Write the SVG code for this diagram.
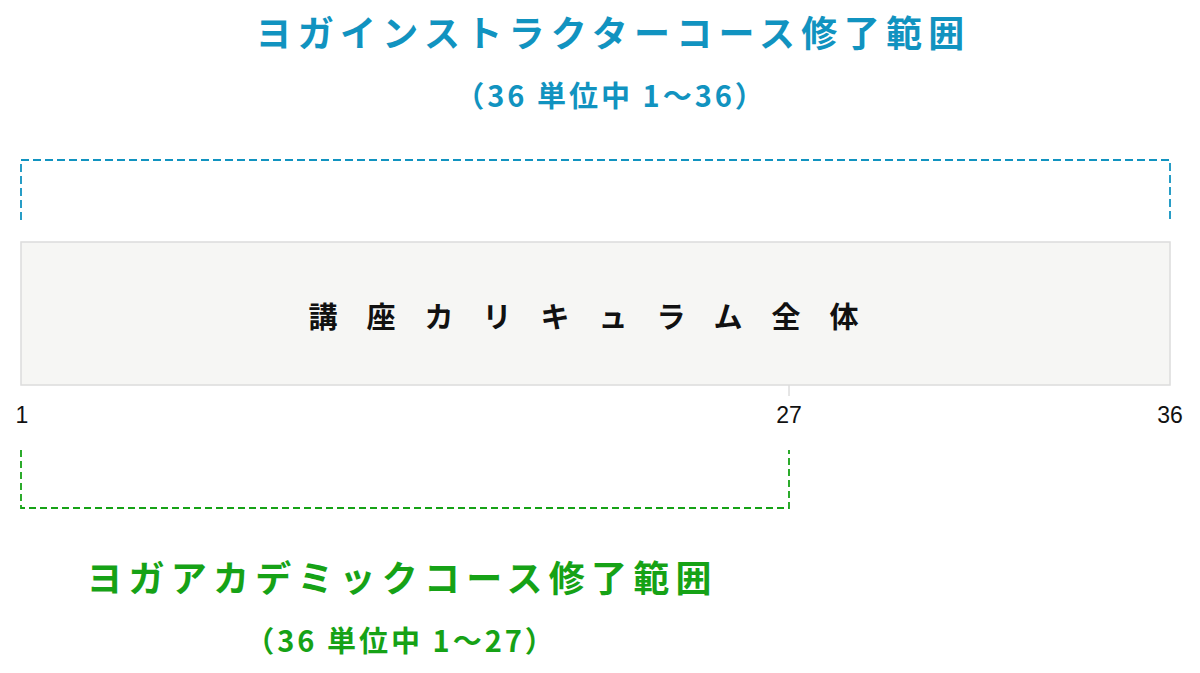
<svg xmlns="http://www.w3.org/2000/svg" width="1200" height="673" viewBox="0 0 1200 673">
<style>
.jp{font-family:"Noto Sans CJK JP","Noto Sans",sans-serif;font-weight:bold;}
.blue{fill:#1193c0;}
.green{fill:#16a216;}
.num{font-family:"Liberation Sans","Noto Sans",sans-serif;font-size:23px;fill:#111;}
.dashB{fill:none;stroke:#1193c0;stroke-width:1.8;stroke-dasharray:8,4;}
.dashG{fill:none;stroke:#16a216;stroke-width:1.8;stroke-dasharray:7,4;}
</style>
<rect width="1200" height="673" fill="#fff"/>
<g id="title-instructor">
<text class="jp blue" x="613" y="47" font-size="36" letter-spacing="6.3" text-anchor="middle">ヨガインストラクターコース修了範囲</text>
<text class="jp blue" x="611" y="107" font-size="29" letter-spacing="3" text-anchor="middle">（36 単位中 1〜36）</text>
</g>
<g id="connectors">
<path class="dashB" d="M21,220 V160 H1170 V220"/>
<path class="dashG" d="M21,450 V508 H789 V450"/>
<line x1="789" y1="372" x2="789" y2="396" stroke="#cccccc" stroke-width="1"/>
</g>
<g id="curriculum">
<rect x="21" y="242" width="1149" height="143" fill="#f6f6f4" stroke="#dcdcdc" stroke-width="1.5"/>
<text class="jp" x="598" y="328" font-size="29" letter-spacing="29" text-anchor="middle" fill="#111">講座カリキュラム全体</text>
</g>
<g id="labels">
<text class="num" x="22" y="423" text-anchor="middle">1</text>
<text class="num" x="789" y="423" text-anchor="middle">27</text>
<text class="num" x="1170" y="423" text-anchor="middle">36</text>
</g>
<g id="title-academic">
<text class="jp green" x="402" y="592" font-size="36" letter-spacing="6.2" text-anchor="middle">ヨガアカデミックコース修了範囲</text>
<text class="jp green" x="401" y="652" font-size="29" letter-spacing="3" text-anchor="middle">（36 単位中 1〜27）</text>
</g>
</svg>
